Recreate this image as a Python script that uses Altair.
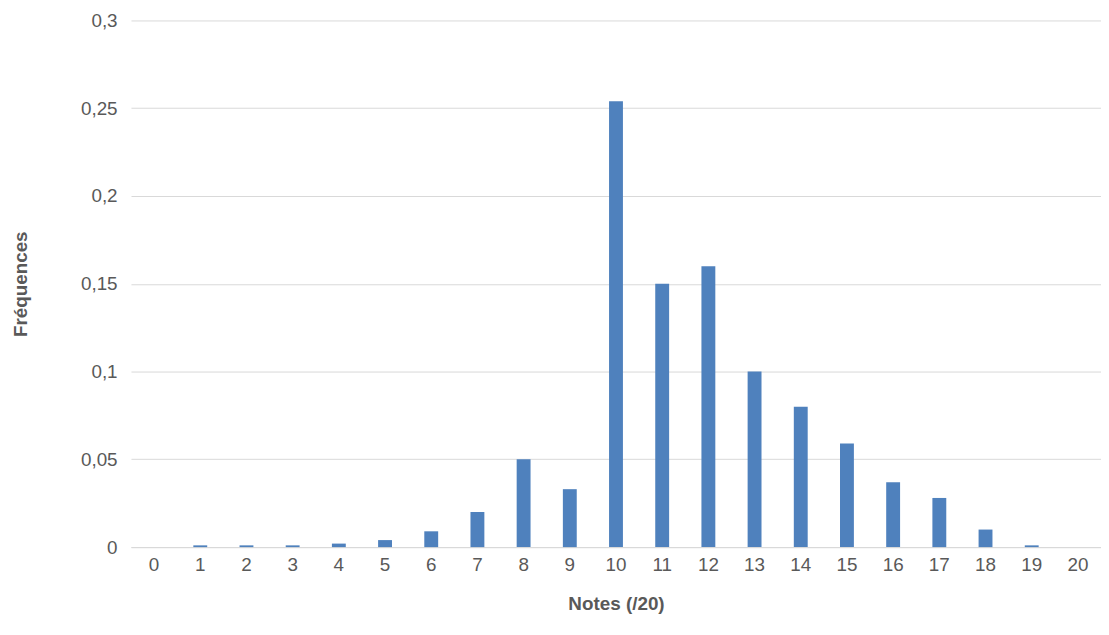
import altair as alt
import pandas as pd

notes = list(range(21))
freqs = [0, 0.001, 0.001, 0.001, 0.002, 0.004, 0.009, 0.02, 0.05, 0.033, 0.254,
         0.15, 0.16, 0.1, 0.08, 0.059, 0.037, 0.028, 0.01, 0.001, 0]

df = pd.DataFrame({"note": notes, "freq": freqs})

chart = alt.Chart(df).mark_bar(color="#4F81BD", width=14).encode(
    x=alt.X("note:O", title="Notes (/20)",
            axis=alt.Axis(labelAngle=0, labelFontSize=19, labelColor="#595959",
                          titleFontSize=19, titleColor="#595959", titleFontWeight="bold",
                          domainColor="#D9D9D9", ticks=False, labelPadding=9, titlePadding=20,
                          grid=False)),
    y=alt.Y("freq:Q", title="Fréquences", scale=alt.Scale(domain=[0, 0.3]),
            axis=alt.Axis(values=[0, 0.05, 0.1, 0.15, 0.2, 0.25, 0.3],
                          labelExpr="replace(format(datum.value, ''), '.', ',')",
                          labelFontSize=19, labelColor="#595959", titleFontSize=19,
                          titleColor="#595959", titleFontWeight="bold", domain=False,
                          ticks=False, gridColor="#D9D9D9", labelPadding=14, titlePadding=50)),
).properties(width=978, height=531, padding={"left": 124, "top": 10, "right": 0, "bottom": 78},
             autosize=alt.AutoSizeParams(type="none")).configure_view(stroke=None).configure_axis(
    labelFont="Liberation Sans", titleFont="Liberation Sans")

chart.save("out.html", embed_options={"renderer": "svg", "actions": False})
